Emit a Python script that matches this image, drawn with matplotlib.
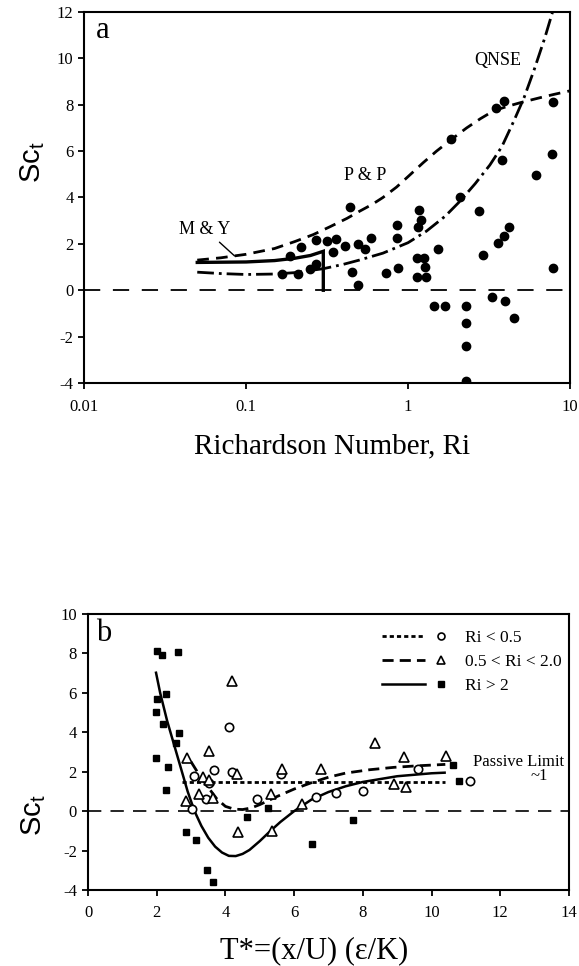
import numpy as np
import matplotlib
matplotlib.use("Agg")
import matplotlib.pyplot as plt
from matplotlib.lines import Line2D
from matplotlib.legend_handler import HandlerTuple

plt.rcParams['font.family'] = ['Liberation Serif', 'DejaVu Serif']
plt.rcParams['mathtext.fontset'] = 'custom'
plt.rcParams['mathtext.rm'] = 'Liberation Sans'
plt.rcParams['axes.unicode_minus'] = False

# ---- panel a: Sc_t against Richardson number ----
ri_obs = [0.44, 0.166, 0.21, 0.248, 0.186, 0.218, 0.27, 0.315, 0.358, 0.344,
          0.408, 0.493, 0.543, 0.589, 0.453, 0.493, 0.728, 0.87, 0.85, 0.86,
          1.17, 1.2, 1.16, 1.13, 1.25, 1.27, 1.13, 1.29, 0.27,
          1.54, 1.44, 1.68, 2.28, 2.28, 2.28, 2.28, 2.08, 2.73, 2.91,
          3.57, 3.91, 4.2, 3.32, 3.97, 4.5, 7.8, 1.85, 3.47, 3.9, 3.8,
          6.17, 7.75, 7.8]
sc_obs = [3.6, 0.69, 0.7, 0.93, 1.48, 1.87, 2.17, 2.14, 2.2, 1.66,
          1.9, 1.98, 1.77, 2.24, 0.8, 0.23, 0.76, 0.97, 2.24, 2.82,
          3.48, 3.05, 2.72, 1.38, 1.38, 1.0, 0.59, 0.59, 1.15,
          1.77, -0.68, -0.68, -0.68, -1.42, -2.4, -3.9, 4.0, 3.43, 1.52,
          2.04, 2.34, 2.72, -0.3, -0.47, -1.18, 0.95, 6.54, 7.87, 8.15, 5.6,
          4.97, 5.87, 8.1]

ri_pp = [0.05, 0.07, 0.1, 0.15, 0.2, 0.26, 0.33, 0.42, 0.5, 0.6, 0.7, 0.85,
         1.0, 1.24, 1.5, 1.85, 2.3, 2.8, 3.4, 4.2, 5.0, 6.5, 8.0, 10.0]
sc_pp = [1.3, 1.4, 1.55, 1.8, 2.1, 2.4, 2.74, 3.1, 3.4, 3.7, 4.0, 4.45,
         4.9, 5.5, 6.0, 6.5, 7.0, 7.4, 7.75, 7.95, 8.1, 8.3, 8.45, 8.6]

ri_qnse = [0.05, 0.07, 0.1, 0.15, 0.2, 0.3, 0.4, 0.5, 0.7, 1.0, 1.3, 1.7,
           2.1, 2.6, 3.2, 3.8, 4.5, 5.2, 6.0, 7.0, 7.8, 8.5]
sc_qnse = [0.78, 0.72, 0.68, 0.7, 0.76, 0.93, 1.12, 1.3, 1.6, 2.05, 2.55, 3.2,
           3.85, 4.6, 5.4, 6.2, 7.3, 8.3, 9.5, 10.9, 12.0, 13.2]

ri_my = [0.05, 0.1, 0.15, 0.2, 0.25, 0.3, 0.3]
sc_my = [1.2, 1.22, 1.28, 1.38, 1.5, 1.68, 0.0]

xticks_a = [0.01, 0.1, 1, 10]
xticklabels_a = ['0.01', '0.1', '1', '10']

# ---- panel b: Sc_t against T* ----
t_lo = [4.09, 3.08, 3.67, 4.19, 5.62, 3.51, 3.43, 3.03, 4.93, 6.63, 7.23,
        8.0, 9.6, 11.12]
sc_lo = [4.27, 1.78, 2.07, 2.0, 1.86, 1.44, 0.64, 0.12, 0.64, 0.71, 0.93,
         1.02, 2.12, 1.53]

t_mid = [4.2, 3.53, 2.88, 3.35, 3.53, 4.35, 5.64, 6.78, 8.36, 9.19, 10.43,
         8.91, 9.26, 2.86, 3.24, 3.64, 5.32, 6.22, 4.38, 5.37]
sc_mid = [6.6, 3.05, 2.68, 1.75, 1.58, 1.9, 2.12, 2.15, 3.44, 2.75, 2.8,
          1.36, 1.22, 0.51, 0.88, 0.68, 0.85, 0.37, -1.07, -1.02]

t_hi = [2.02, 2.14, 2.61, 2.01, 1.99, 2.28, 2.19, 2.66, 2.56, 1.99, 2.32,
        2.28, 2.85, 3.15, 3.46, 3.64, 4.62, 5.25, 6.51, 7.72, 10.62, 10.81]
sc_hi = [8.14, 7.94, 8.06, 5.68, 5.03, 5.93, 4.44, 3.98, 3.44, 2.71, 2.24,
         1.05, -1.07, -1.49, -3.0, -3.61, -0.31, 0.17, -1.66, -0.46, 2.34, 1.53]

t_fit_lo = [2.75, 10.4]
sc_fit_lo = [1.47, 1.47]

t_fit_mid = [3.0, 3.25, 3.5, 3.75, 4.0, 4.25, 4.5, 4.75, 5.0, 5.5, 6.0, 6.5,
             7.0, 7.5, 8.2, 8.9, 9.6, 10.4]
sc_fit_mid = [2.5, 1.8, 1.2, 0.62, 0.24, 0.1, 0.08, 0.16, 0.33, 0.74, 1.12,
              1.44, 1.72, 1.93, 2.1, 2.22, 2.3, 2.37]

t_fit_hi = [1.98, 2.1, 2.3, 2.5, 2.7, 2.9, 3.1, 3.3, 3.5, 3.7, 3.9, 4.1,
            4.3, 4.5, 4.7, 5.0, 5.3, 5.6, 6.0, 6.5, 7.0, 7.5, 8.0, 9.0,
            10.0, 10.38]
sc_fit_hi = [7.02, 6.0, 4.6, 3.4, 2.2, 1.0, 0.0, -0.75, -1.35, -1.8, -2.1,
             -2.27, -2.28, -2.17, -1.97, -1.52, -1.02, -0.55, 0.0, 0.58,
             0.97, 1.26, 1.48, 1.77, 1.92, 1.95]

fig = plt.figure(figsize=(5.79, 9.66), dpi=100)

# ================= panel a =================
ax = fig.add_axes([0.1451, 0.6035, 0.8394, 0.3841])
ax.set_xscale('log')
ax.axhline(0, color='black', lw=1.3, ls=(0, (9, 7)))
ax.plot(ri_obs, sc_obs, 'o', color='black', ms=6, zorder=3)
ax.plot(ri_pp, sc_pp, color='black', lw=2.0, ls=(0, (4.2, 2.6)))
ax.plot(ri_qnse, sc_qnse, color='black', lw=2.0, ls=(0, (6, 1.8, 1, 1.8)))
ax.plot(ri_my, sc_my, color='black', lw=2.4, solid_joinstyle='miter')

ax.text(3.56, 9.9, 'QNSE', fontsize=13, ha='center', va='center')
ax.text(0.543, 4.97, 'P & P', fontsize=13, ha='center', va='center')
ax.annotate('M & Y', xy=(0.085, 1.48), xytext=(0.0558, 2.64),
            fontsize=13, ha='center', va='center',
            arrowprops=dict(arrowstyle='-', lw=1.0, color='black',
                            shrinkA=2, shrinkB=0))
ax.text(0.039, 0.95, 'a', transform=ax.transAxes, fontsize=22,
        ha='center', va='center')

ax.set_xlim(0.01, 10)
ax.set_ylim(-4, 12)
ax.set_xticks(xticks_a)
ax.set_xticklabels(xticklabels_a)
ax.minorticks_off()
ax.set_yticks(np.arange(-4, 13, 2))
ax.tick_params(axis='both', direction='out', length=4, width=1.3, labelsize=12)
ax.tick_params(axis='x', pad=7.5)
ax.tick_params(axis='y', pad=3.5)
for sp in ax.spines.values():
    sp.set_linewidth(1.5)

ax.set_xlabel('Richardson Number, Ri', fontsize=21, va='baseline')
ax.xaxis.set_label_coords(0.51, -0.189)
ax.set_ylabel(r'Sc$_{\rm t}$', fontsize=21, family='Liberation Sans',
              va='center', ha='center')
ax.yaxis.set_label_coords(-0.105, 0.596)

# ================= panel b =================
bx = fig.add_axes([0.152, 0.0787, 0.8307, 0.2857])
bx.axhline(0, color='black', lw=1.2, ls=(0, (8, 5.5)))
bx.plot(t_fit_lo, sc_fit_lo, color='black', lw=2.0, ls=(0, (1.5, 1.1)))
bx.plot(t_fit_mid, sc_fit_mid, color='black', lw=2.0, ls=(0, (4, 2.2)))
bx.plot(t_fit_hi, sc_fit_hi, color='black', lw=1.8)
bx.plot(t_lo, sc_lo, 'o', ms=6, mfc='white', mec='black', mew=1.2, zorder=3)
bx.plot(t_mid, sc_mid, '^', ms=7, mfc='white', mec='black', mew=1.2, zorder=3)
bx.plot(t_hi, sc_hi, 's', ms=5, color='black', zorder=3)

bx.text(12.52, 2.51, 'Passive Limit', fontsize=12, ha='center', va='center')
bx.text(13.4, 1.78, '~1', fontsize=12, ha='right', va='center')
bx.text(0.032, 0.93, 'b', transform=bx.transAxes, fontsize=22,
        ha='center', va='center')

h_lo = (Line2D([], [], color='black', lw=2.0, ls=(0, (1.5, 1.1))),
        Line2D([], [], ls='none', marker='o', ms=5, mfc='white', mec='black', mew=1.2))
h_mid = (Line2D([], [], color='black', lw=2.0, ls=(0, (4, 2.2))),
         Line2D([], [], ls='none', marker='^', ms=6, mfc='white', mec='black', mew=1.2))
h_hi = (Line2D([], [], color='black', lw=1.8),
        Line2D([], [], ls='none', marker='s', ms=4.5, color='black'))
bx.legend([h_lo, h_mid, h_hi], ['Ri < 0.5', '0.5 < Ri < 2.0', 'Ri > 2'],
          handler_map={tuple: HandlerTuple(ndivide=None, pad=-0.3)},
          loc='upper right', bbox_to_anchor=(1.0, 0.967), frameon=False,
          fontsize=12.5, handlelength=4.6, handletextpad=0.2,
          labelspacing=0.45, borderaxespad=0.0, borderpad=0.4)

bx.set_xlim(0, 14)
bx.set_ylim(-4, 10)
bx.set_xticks(np.arange(0, 15, 2))
bx.set_yticks(np.arange(-4, 11, 2))
bx.tick_params(axis='both', direction='out', length=4, width=1.3, labelsize=12)
bx.tick_params(axis='x', pad=6.5)
bx.tick_params(axis='y', pad=4)
for sp in bx.spines.values():
    sp.set_linewidth(1.5)

bx.set_xlabel('T*=(x/U) (\u03b5/K)', fontsize=22, va='baseline')
bx.xaxis.set_label_coords(0.47, -0.246)
bx.set_ylabel(r'Sc$_{\rm t}$', fontsize=21, family='Liberation Sans',
              va='center', ha='center')
bx.yaxis.set_label_coords(-0.114, 0.272)

fig.savefig('out.png', dpi=100)
